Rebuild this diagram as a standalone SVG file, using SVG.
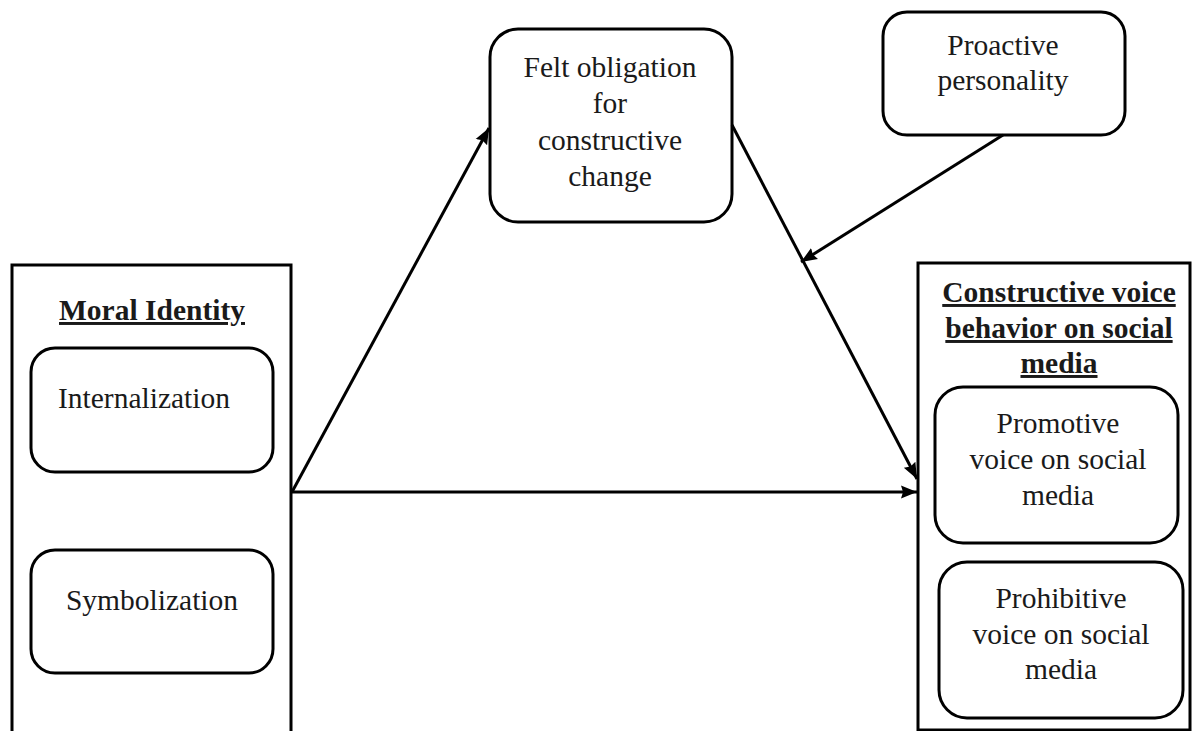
<svg xmlns="http://www.w3.org/2000/svg" width="1192" height="731" viewBox="0 0 1192 731">
<style>
.box{fill:#fff;stroke:#000;stroke-width:3}
.t{font-size:29.5px;fill:#1a1a1a;text-anchor:middle}
.b{font-weight:bold;text-decoration:underline}
.c{fill:none;stroke:#000;stroke-width:3}
</style>
<defs>
<marker id="ah" markerUnits="userSpaceOnUse" markerWidth="18" markerHeight="16" refX="16" refY="8" orient="auto">
<path d="M0,1.5 L16,8 L0,14.5 L2,8 Z" fill="#000"/>
</marker>
</defs>
<rect width="1192" height="731" fill="#fff"/>
<g font-family="Liberation Serif, Times New Roman, DejaVu Serif, serif">
<g id="moral-identity">
<rect class="box" x="12" y="265" width="279" height="480"/>
<text class="t b" x="152" y="320">Moral Identity</text>
</g>
<g id="internalization">
<rect class="box" x="31" y="348" width="242" height="124" rx="24"/>
<text class="t" x="144" y="408">Internalization</text>
</g>
<g id="symbolization">
<rect class="box" x="31" y="550" width="242" height="123" rx="24"/>
<text class="t" x="152" y="610">Symbolization</text>
</g>
<g id="felt-obligation">
<rect class="box" x="490" y="29" width="242" height="193" rx="28"/>
<text class="t" x="610" y="77">Felt obligation</text>
<text class="t" x="610" y="113">for</text>
<text class="t" x="610" y="150">constructive</text>
<text class="t" x="610" y="186">change</text>
</g>
<g id="proactive-personality">
<rect class="box" x="883" y="12" width="242" height="123" rx="24"/>
<text class="t" x="1003" y="55">Proactive</text>
<text class="t" x="1003" y="90">personality</text>
</g>
<g id="constructive-voice">
<rect class="box" x="918" y="263" width="272" height="467"/>
<text class="t b" x="1059" y="302">Constructive voice</text>
<text class="t b" x="1059" y="338">behavior on social</text>
<text class="t b" x="1059" y="373">media</text>
</g>
<g id="promotive">
<rect class="box" x="935" y="387" width="243" height="156" rx="28"/>
<text class="t" x="1058" y="433">Promotive</text>
<text class="t" x="1058" y="469">voice on social</text>
<text class="t" x="1058" y="505">media</text>
</g>
<g id="prohibitive">
<rect class="box" x="939" y="562" width="244" height="156" rx="28"/>
<text class="t" x="1061" y="608">Prohibitive</text>
<text class="t" x="1061" y="644">voice on social</text>
<text class="t" x="1061" y="679">media</text>
</g>
</g>
<g id="connectors">
<line class="c" x1="292" y1="492" x2="489" y2="128" marker-end="url(#ah)"/>
<line class="c" x1="292" y1="492" x2="917" y2="492" marker-end="url(#ah)"/>
<line class="c" x1="732" y1="125" x2="917" y2="479" marker-end="url(#ah)"/>
<line class="c" x1="1003" y1="135" x2="801" y2="262" marker-end="url(#ah)"/>
</g>
</svg>
